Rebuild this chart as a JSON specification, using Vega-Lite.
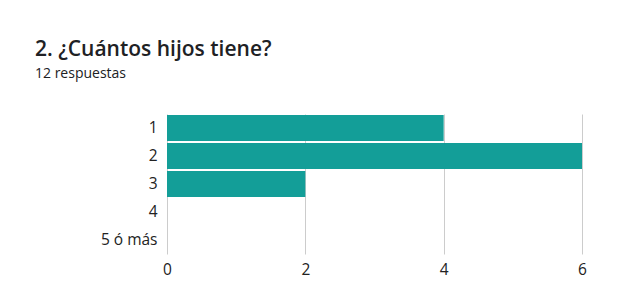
{
  "$schema": "https://vega.github.io/schema/vega-lite/v6.json",
  "autosize": "none",
  "width": 415,
  "height": 140,
  "padding": {"left": 167, "top": 114, "right": 40, "bottom": 51},
  "background": "white",
  "title": {
    "text": "2. ¿Cuántos hijos tiene?",
    "subtitle": "12 respuestas",
    "anchor": "start",
    "frame": "group",
    "dx": -132,
    "dy": -29,
    "font": "Open Sans",
    "fontSize": 21,
    "fontWeight": 600,
    "color": "#202124",
    "subtitleFont": "Open Sans",
    "subtitleFontSize": 14,
    "subtitleColor": "#202124",
    "subtitlePadding": 7
  },
  "data": {
    "values": [
      {"hijos": "1", "respuestas": 4},
      {"hijos": "2", "respuestas": 6},
      {"hijos": "3", "respuestas": 2},
      {"hijos": "4", "respuestas": 0},
      {"hijos": "5 ó más", "respuestas": 0}
    ]
  },
  "mark": {"type": "bar", "color": "#139e98"},
  "encoding": {
    "y": {
      "field": "hijos",
      "type": "nominal",
      "sort": ["1", "2", "3", "4", "5 ó más"],
      "scale": {"paddingInner": 0.07, "paddingOuter": 0.035},
      "axis": {
        "title": null,
        "domain": false,
        "ticks": false,
        "labelPadding": 10,
        "labelFont": "Open Sans",
        "labelFontSize": 15.5,
        "labelColor": "#222222"
      }
    },
    "x": {
      "field": "respuestas",
      "type": "quantitative",
      "scale": {"domain": [0, 6]},
      "axis": {
        "title": null,
        "values": [0, 2, 4, 6],
        "domain": false,
        "ticks": false,
        "grid": true,
        "gridColor": "#cccccc",
        "labelFlush": false,
        "labelPadding": 8,
        "labelFont": "Open Sans",
        "labelFontSize": 15.5,
        "labelColor": "#222222"
      }
    }
  },
  "config": {"view": {"stroke": null}}
}
